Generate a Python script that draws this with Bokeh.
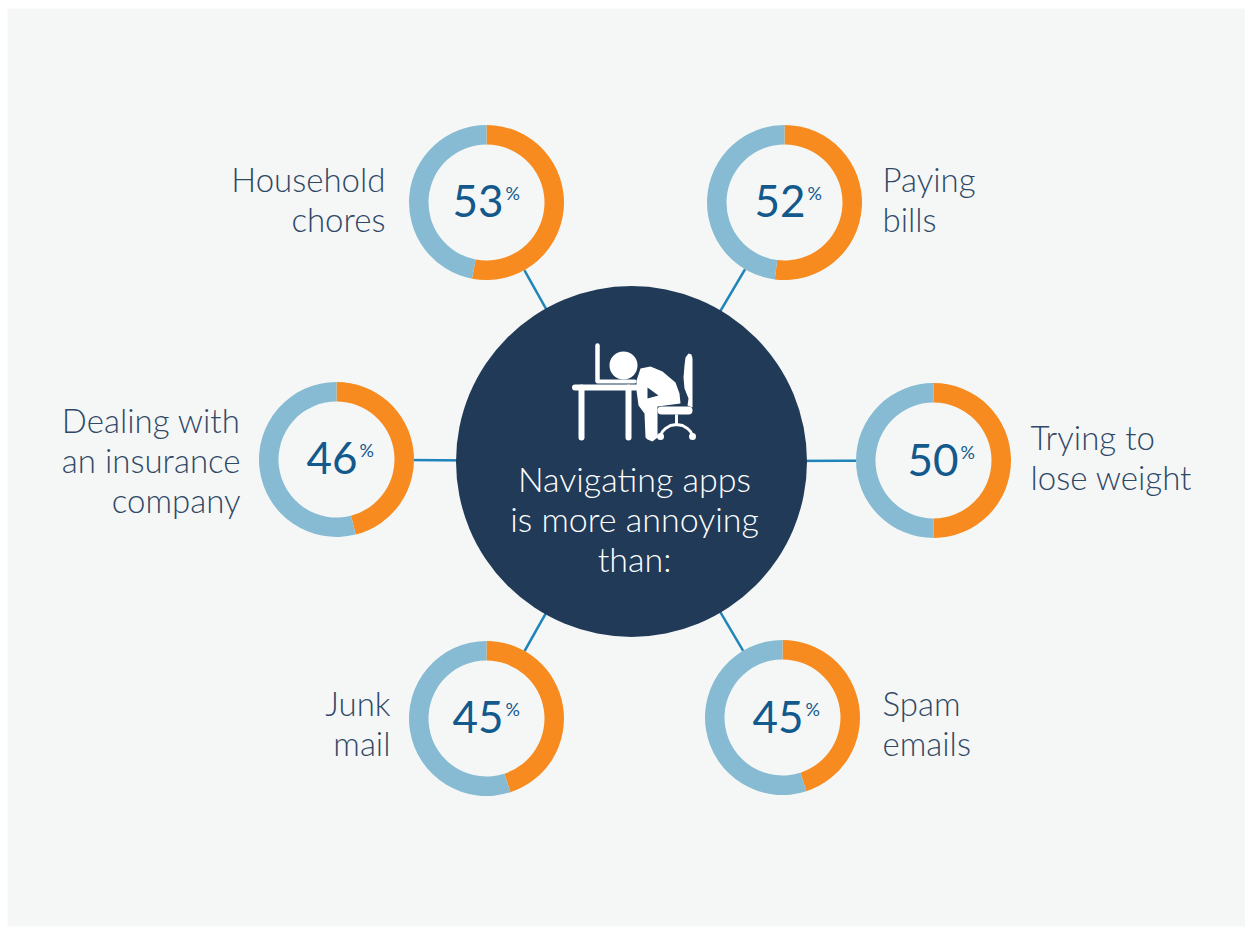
from bokeh.plotting import figure
from bokeh.embed import file_html
from bokeh.resources import INLINE
from bokeh.core.properties import value
from bokeh.models import Range1d
import math

# --- data
categories = ["Household chores", "Paying bills", "Trying to lose weight",
              "Spam emails", "Junk mail", "Dealing with an insurance company"]
percent = [53, 52, 50, 45, 45, 46]
label_lines = [["Household", "chores"], ["Paying", "bills"], ["Trying to", "lose weight"],
               ["Spam", "emails"], ["Junk", "mail"], ["Dealing with", "an insurance", "company"]]
center_lines = ["Navigating apps", "is more annoying", "than:"]

# --- layout
W, H = 1245, 927
BG, NAVY, ORANGE, BLUE, SPOKE, NUM, LAB = "#f5f7f6", "#203a58", "#f78b1f", "#86bbd3", "#1f84b9", "#13598c", "#2f4866"
LIGHT, REG = value("Lato Light"), value("Lato")
BASE = 0.38   # baseline correction, in font sizes
cx = [486, 784, 933, 782, 486, 336]
cy = [202, 202, 460, 717, 718, 459]
label_x = [385, 882, 1030, 882, 390, 240]
label_y = [191, 191, 449, 715, 715, 432]
label_align = ["right", "left", "left", "left", "right", "right"]
num_x = [503, 805, 958, 803, 503, 357]
num_y = [217, 217, 476, 733, 733, 474]
R0, R1 = 58, 77.5
HUB = (631, 461, 175.5)

p = figure(width=W, height=H, output_backend="svg", toolbar_location=None,
           x_range=Range1d(0, W), y_range=Range1d(H, 0),
           min_border=0, background_fill_color="#ffffff", border_fill_color="#ffffff", outline_line_color=None)
p.axis.visible = False
p.grid.visible = False
p.quad(left=[7], right=[W], top=[8], bottom=[H - 1], fill_color=BG, line_color=None)

def txt(x, y, t, size, color, align, font=LIGHT):
    p.text(x=[x], y=[y - BASE * size], text=[t], text_font=font, text_font_size=f"{size}px", text_color=color,
           text_align=align, text_baseline="alphabetic")

# spokes
p.segment(x0=[HUB[0]] * 6, y0=[HUB[1]] * 6, x1=cx, y1=cy, line_color=SPOKE, line_width=2.5)

# hub
p.circle(x=[HUB[0]], y=[HUB[1]], radius=HUB[2], fill_color=NAVY, line_color=None)
for i, t in enumerate(center_lines):
    txt(634, 491 + 40 * i, t, 34, "#ffffff", "center")

# donuts: the orange part runs clockwise from 12 o'clock
for x, y, v in zip(cx, cy, percent):
    p.circle(x=[x], y=[y], radius=R1, fill_color=BG, line_color=None)
    top = math.pi / 2
    end = top - 2 * math.pi * v / 100
    p.annular_wedge(x=[x], y=[y], inner_radius=R0, outer_radius=R1, start_angle=top, end_angle=end,
                    direction="clock", fill_color=ORANGE, line_color=None)
    p.annular_wedge(x=[x], y=[y], inner_radius=R0, outer_radius=R1, start_angle=end, end_angle=top,
                    direction="clock", fill_color=BLUE, line_color=None)

# numbers and labels
for v, nx, ny in zip(percent, num_x, num_y):
    txt(nx, ny, str(v), 44, NUM, "right", REG)
    txt(nx + 2, ny - 18, "%", 18, NUM, "left", REG)
for lines, lx, ly, al in zip(label_lines, label_x, label_y, label_align):
    for i, t in enumerate(lines):
        txt(lx, ly + 40 * i, t, 33, LAB, al)

# icon of a person asleep at a desk
W_ = "#ffffff"
strokes = [([574.5, 635], [387, 387], 6), ([581, 581], [387, 437], 6), ([628, 628], [387, 437], 6),
           ([597, 597], [345, 380], 4.5), ([597, 634], [381, 381], 4)]
for xs, ys, w in strokes:
    p.line(xs, ys, line_color=W_, line_width=w, line_cap="round")
p.circle(x=[623], y=[365], radius=14, fill_color=W_, line_color=None)
p.patch([636, 640, 650, 662, 675, 679, 680, 657, 657, 652, 647, 645, 644, 638, 636],
        [380, 368, 366, 371, 382, 393, 403, 406, 437, 441, 439, 437, 413, 405, 390],
        fill_color=W_, line_color=None)
p.patch([647, 658, 647], [387, 395, 398], fill_color=NAVY, line_color=None)
p.patch([688, 691, 692, 692, 687, 688, 684, 683, 684, 685],
        [353, 354, 358, 407, 405, 398, 388, 377, 365, 357], fill_color=W_, line_color=None)
p.line([661, 688], [410, 410], line_color=W_, line_width=8, line_cap="round")
p.line([676, 676], [414, 424], line_color=W_, line_width=3)
p.line([660, 662, 665, 670, 676, 682, 687, 690, 692], [435, 431, 428, 425, 424, 425, 428, 431, 435], line_color=W_, line_width=2.8)
p.circle(x=[660, 692], y=[436, 436], radius=3.5, fill_color=W_, line_color=None)

open("out.html", "w").write(file_html(p, INLINE))
